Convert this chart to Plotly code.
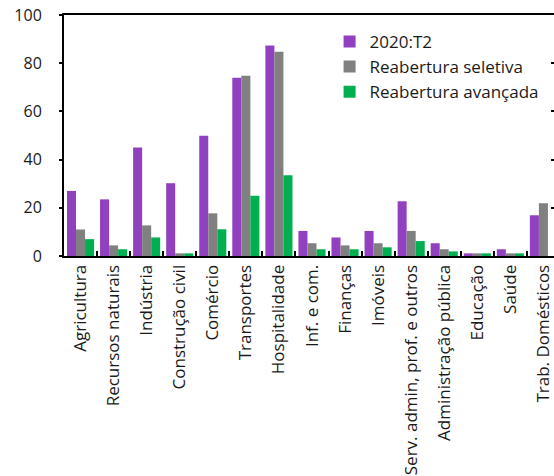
import plotly.graph_objects as go

# Sectors
categories = [
    "Agricultura", "Recursos naturais", "Indústria", "Construção civil",
    "Comércio", "Transportes", "Hospitalidade", "Inf. e com.", "Finanças",
    "Imóveis", "Serv. admin, prof. e outros", "Administração pública",
    "Educação", "Saúde", "Trab. Domésticos",
]

# Series values (%)
t2_2020 = [27, 23.5, 45, 30.2, 49.9, 74, 87.3, 10.4, 7.7, 10.4, 22.7, 5.3, 1.1, 2.8, 16.9]
reabertura_seletiva = [11, 4.4, 12.7, 1.1, 17.7, 74.8, 84.8, 5.3, 4.4, 5.3, 10.4, 2.8, 1.1, 1.1, 21.9]
reabertura_avancada = [7, 2.8, 7.7, 1.1, 11.1, 25, 33.5, 2.8, 2.8, 3.6, 6.2, 1.9, 1.1, 1.1, None]

y_ticks = [0, 20, 40, 60, 80, 100]
y2_ticks = [20, 40, 60, 80]

FONT = "Open Sans"
TXT = "#1a1a1a"

fig = go.Figure()
series = [
    ("2020:T2", t2_2020, "#9140BF"),
    ("Reabertura seletiva", reabertura_seletiva, "#808080"),
    ("Reabertura avançada", reabertura_avancada, "#00B050"),
]
for name, vals, color in series:
    fig.add_trace(go.Bar(
        x=categories, y=vals, name=name,
        marker=dict(color=color, line=dict(width=0)),
    ))

# secondary value axis on the right (ticks only); its trace sits outside the range
fig.add_trace(go.Scatter(
    x=[categories[0]], y=[-50], yaxis="y2", mode="markers",
    marker=dict(opacity=0), showlegend=False, hoverinfo="skip",
))

fig.update_layout(
    width=554, height=476,
    margin=dict(l=64, r=0, t=15, b=220),
    paper_bgcolor="white", plot_bgcolor="white",
    font=dict(family=FONT, color=TXT),
    barmode="group", bargap=0.18, bargroupgap=0,
    showlegend=True,
    legend=dict(
        x=0.542, y=0.963, xanchor="left", yanchor="top",
        bgcolor="rgba(0,0,0,0)", font=dict(size=17, family=FONT, color=TXT),
        itemwidth=30, tracegroupgap=0,
    ),
    xaxis=dict(
        type="category",
        range=[-0.5, 14.32],
        tickson="boundaries", ticks="inside", ticklen=5, tickwidth=2,
        tickcolor="black",
        tickangle=-90, tickfont=dict(size=17, family=FONT, color=TXT),
        showline=True, linecolor="black", linewidth=2, mirror=True,
        showgrid=False, zeroline=False,
    ),
    yaxis=dict(
        range=[0, 100], tickvals=y_ticks,
        ticks="outside", ticklen=3, tickwidth=1.5, tickcolor="black",
        tickfont=dict(size=16, family=FONT, color=TXT),
        ticklabelstandoff=14,
        showline=True, linecolor="black", linewidth=2, mirror=False,
        showgrid=False, zeroline=False,
    ),
    yaxis2=dict(
        overlaying="y", side="right", anchor="x",
        range=[0, 100], tickvals=y2_ticks,
        ticks="inside", ticklen=3, tickwidth=1.5, tickcolor="black",
        showticklabels=False, showline=False, showgrid=False, zeroline=False,
    ),
)

fig.write_html("out.html")
